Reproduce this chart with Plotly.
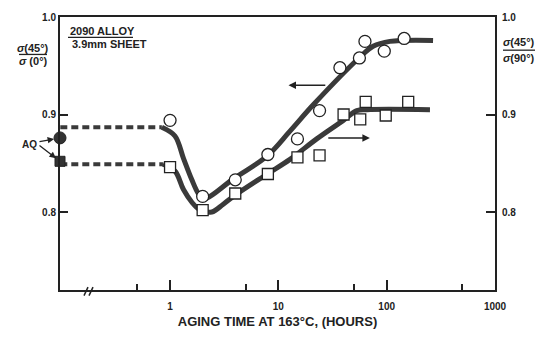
import numpy as np
import plotly.graph_objects as go

# --- measured values -------------------------------------------------------
# sigma(45)/sigma(0) (left axis, circles)
circle_hours = [1, 2, 4, 8, 15, 24, 37, 56, 63, 95, 145]
circle_ratio = [0.894, 0.816, 0.833, 0.859, 0.875, 0.904, 0.948, 0.958, 0.975, 0.965, 0.978]

# sigma(45)/sigma(90) (right axis, squares)
square_hours = [1, 2, 4, 8, 15, 24, 40, 57, 64, 98, 158]
square_ratio = [0.846, 0.802, 0.819, 0.839, 0.856, 0.858, 0.900, 0.895, 0.913, 0.899, 0.913]

# as-quenched (AQ) values, drawn on the broken left end of the time axis
aq_circle_ratio = 0.876
aq_square_ratio = 0.852

# hand-drawn trend curves (dashed from AQ level, then solid)
circle_trend_dash_hours = [0.097, 0.84]
circle_trend_dash_ratio = [0.887, 0.887]
circle_trend_hours = [0.84, 1.11, 1.33, 1.59, 1.82, 2.03, 2.34, 3.84, 7.8, 12.8, 21, 56.8, 74.9, 107, 268]
circle_trend_ratio = [0.887, 0.878, 0.855, 0.833, 0.819, 0.813, 0.816, 0.834, 0.857, 0.883, 0.910, 0.959, 0.970, 0.975, 0.976]

square_trend_dash_hours = [0.097, 0.86]
square_trend_dash_ratio = [0.849, 0.849]
square_trend_hours = [0.86, 1.11, 1.33, 1.59, 1.89, 2.43, 3.1, 4.07, 7.9, 12.8, 22.6, 39.8, 53, 65.5, 251]
square_trend_ratio = [0.849, 0.842, 0.823, 0.810, 0.802, 0.800, 0.808, 0.818, 0.839, 0.854, 0.875, 0.894, 0.904, 0.905, 0.905]

x_ticks = [1, 10, 100, 1000]
x_tick_text = ["1", "10", "100", "1000"]
x_minor_ticks = [0.5, 5, 50, 500]
y_ticks = [0.8, 0.9, 1.0]
y_tick_text = ["0.8", "0.9", "1.0"]

# --- styling ---------------------------------------------------------------
FONT = "Liberation Sans Narrow, Arial Narrow, Liberation Sans, Arial, sans-serif"
INK = "#222222"
CURVE = "#3a3a3a"
X_LOG_RANGE = [-1.016, 3]
Y_RANGE = [0.72, 1.0]
x_axis_start = 10 ** X_LOG_RANGE[0]

W, H = 535, 338
ML, MR, MT, MB = 60, 40, 11, 39
PW, PH = W - ML - MR, H - MT - MB


def px(x):
    return (x - ML) / PW


def py(y):
    return (H - MB - y) / PH


fig = go.Figure()

# trend curves
fig.add_trace(go.Scatter(x=circle_trend_dash_hours, y=circle_trend_dash_ratio, mode="lines",
                         line=dict(color=CURVE, width=4, dash="7px,4px"), cliponaxis=False,
                         hoverinfo="skip"))
fig.add_trace(go.Scatter(x=circle_trend_hours, y=circle_trend_ratio, mode="lines",
                         line=dict(color=CURVE, width=5, shape="spline", smoothing=1.0),
                         hoverinfo="skip"))
fig.add_trace(go.Scatter(x=square_trend_dash_hours, y=square_trend_dash_ratio, mode="lines",
                         line=dict(color=CURVE, width=4, dash="7px,4px"), cliponaxis=False,
                         hoverinfo="skip"))
fig.add_trace(go.Scatter(x=square_trend_hours, y=square_trend_ratio, mode="lines",
                         line=dict(color=CURVE, width=5, shape="spline", smoothing=1.0),
                         hoverinfo="skip"))

# measured points
fig.add_trace(go.Scatter(x=circle_hours, y=circle_ratio, mode="markers",
                         marker=dict(symbol="circle", size=12, color="white",
                                     line=dict(color=INK, width=1.3)),
                         cliponaxis=False, name="σ(45°)/σ(0°)"))
fig.add_trace(go.Scatter(x=square_hours, y=square_ratio, mode="markers", yaxis="y2",
                         marker=dict(symbol="square", size=11, color="white",
                                     line=dict(color=INK, width=1.3)),
                         cliponaxis=False, name="σ(45°)/σ(90°)"))

# as-quenched points on the axis
fig.add_trace(go.Scatter(x=[x_axis_start], y=[aq_circle_ratio], mode="markers",
                         marker=dict(symbol="circle", size=12, color="#333333",
                                     line=dict(color=INK, width=1)),
                         cliponaxis=False))
fig.add_trace(go.Scatter(x=[x_axis_start], y=[aq_square_ratio], mode="markers", yaxis="y2",
                         marker=dict(symbol="square", size=10, color="#333333",
                                     line=dict(color=INK, width=1)),
                         cliponaxis=False))

tick_font = dict(family=FONT, size=10, color=INK, weight="bold")

fig.update_layout(
    width=W, height=H, autosize=False,
    margin=dict(l=ML, r=MR, t=MT, b=MB, pad=0),
    paper_bgcolor="white", plot_bgcolor="white",
    showlegend=False,
    font=dict(family=FONT, color=INK),
    xaxis=dict(
        type="log", range=X_LOG_RANGE,
        tickmode="array", tickvals=x_ticks, ticktext=x_tick_text,
        ticks="inside", ticklen=10, tickwidth=1.5, tickcolor=INK,
        minor=dict(tickmode="array", tickvals=x_minor_ticks, ticks="inside",
                   ticklen=6, tickwidth=1.5, tickcolor=INK, showgrid=False),
        showline=True, linewidth=2, linecolor=INK, mirror=True,
        showgrid=False, zeroline=False, tickfont=tick_font,
        ticklabelstandoff=6,
        title=dict(text="AGING TIME AT 163°C, (HOURS)", standoff=6,
                   font=dict(family=FONT, size=13, color=INK, weight="bold")),
    ),
    yaxis=dict(
        range=Y_RANGE, tickmode="array", tickvals=y_ticks, ticktext=y_tick_text,
        ticks="inside", ticklen=8, tickwidth=1.5, tickcolor=INK,
        showline=True, linewidth=2, linecolor=INK, mirror=True,
        showgrid=False, zeroline=False, tickfont=tick_font,
    ),
    yaxis2=dict(
        range=Y_RANGE, overlaying="y", side="right",
        tickmode="array", tickvals=y_ticks, ticktext=y_tick_text,
        ticks="inside", ticklen=9, tickwidth=1.5, tickcolor=INK,
        showline=False, showgrid=False, zeroline=False, tickfont=tick_font,
        ticklabelstandoff=6,
    ),
)

label_font = dict(family=FONT, size=11, color=INK, weight="bold")
ann = []

# specimen label
ann.append(dict(xref="paper", yref="paper", x=px(68), y=py(26), text="2090 ALLOY",
                showarrow=False, xanchor="left", yanchor="middle", font=label_font))
ann.append(dict(xref="paper", yref="paper", x=px(70), y=py(39), text="3.9mm SHEET",
                showarrow=False, xanchor="left", yanchor="middle", font=label_font))

# ratio labels for both axes
ann.append(dict(xref="paper", yref="paper", x=px(33), y=py(44), text="<i>σ</i>(45°)",
                showarrow=False, xanchor="center", yanchor="middle", font=label_font))
ann.append(dict(xref="paper", yref="paper", x=px(33), y=py(57.5), text="<i>σ</i> (0°)",
                showarrow=False, xanchor="center", yanchor="middle", font=label_font))
ann.append(dict(xref="paper", yref="paper", x=px(519), y=py(37.5), text="<i>σ</i>(45°)",
                showarrow=False, xanchor="center", yanchor="middle", font=label_font))
ann.append(dict(xref="paper", yref="paper", x=px(519), y=py(54.5), text="<i>σ</i>(90°)",
                showarrow=False, xanchor="center", yanchor="middle", font=label_font))

# AQ label with arrows to the as-quenched points
ann.append(dict(xref="paper", yref="paper", x=px(29), y=py(145), text="AQ",
                showarrow=False, xanchor="center", yanchor="middle",
                font=dict(family=FONT, size=10, color=INK, weight="bold")))
ann.append(dict(x=X_LOG_RANGE[0], y=aq_circle_ratio, xref="x", yref="y", text="",
                showarrow=True, arrowhead=2, arrowsize=1, arrowwidth=1.3, arrowcolor=INK,
                ax=-22, ay=4, standoff=6))
ann.append(dict(x=X_LOG_RANGE[0], y=aq_square_ratio, xref="x", yref="y2", text="",
                showarrow=True, arrowhead=2, arrowsize=1, arrowwidth=1.3, arrowcolor=INK,
                ax=-22, ay=-17, standoff=5))

# direction arrows pointing to the axis each curve belongs to
ann.append(dict(x=np.log10(12.4), y=0.930, ax=np.log10(28), ay=0.930,
                xref="x", yref="y", axref="x", ayref="y", text="",
                showarrow=True, arrowhead=2, arrowsize=1, arrowwidth=1.5, arrowcolor=INK))
ann.append(dict(x=np.log10(70), y=0.876, ax=np.log10(28), ay=0.876,
                xref="x", yref="y", axref="x", ayref="y", text="",
                showarrow=True, arrowhead=2, arrowsize=1, arrowwidth=1.5, arrowcolor=INK))

fig.update_layout(annotations=ann)

line_style = dict(color=INK, width=1.3)
shapes = [
    # underline of specimen label
    dict(type="line", xref="paper", yref="paper", x0=px(68), x1=px(133), y0=py(32.5), y1=py(32.5),
         line=line_style),
    # fraction bars
    dict(type="line", xref="paper", yref="paper", x0=px(19), x1=px(47), y0=py(50.5), y1=py(50.5),
         line=line_style),
    dict(type="line", xref="paper", yref="paper", x0=px(503), x1=px(535), y0=py(46), y1=py(46),
         line=line_style),
    # axis break marks
    dict(type="line", xref="paper", yref="paper", x0=px(84), x1=px(88), y0=py(305), y1=py(296),
         line=dict(color=INK, width=1.5)),
    dict(type="line", xref="paper", yref="paper", x0=px(89), x1=px(93), y0=py(305), y1=py(296),
         line=dict(color=INK, width=1.5)),
]
fig.update_layout(shapes=shapes)

fig.write_html("out.html")
